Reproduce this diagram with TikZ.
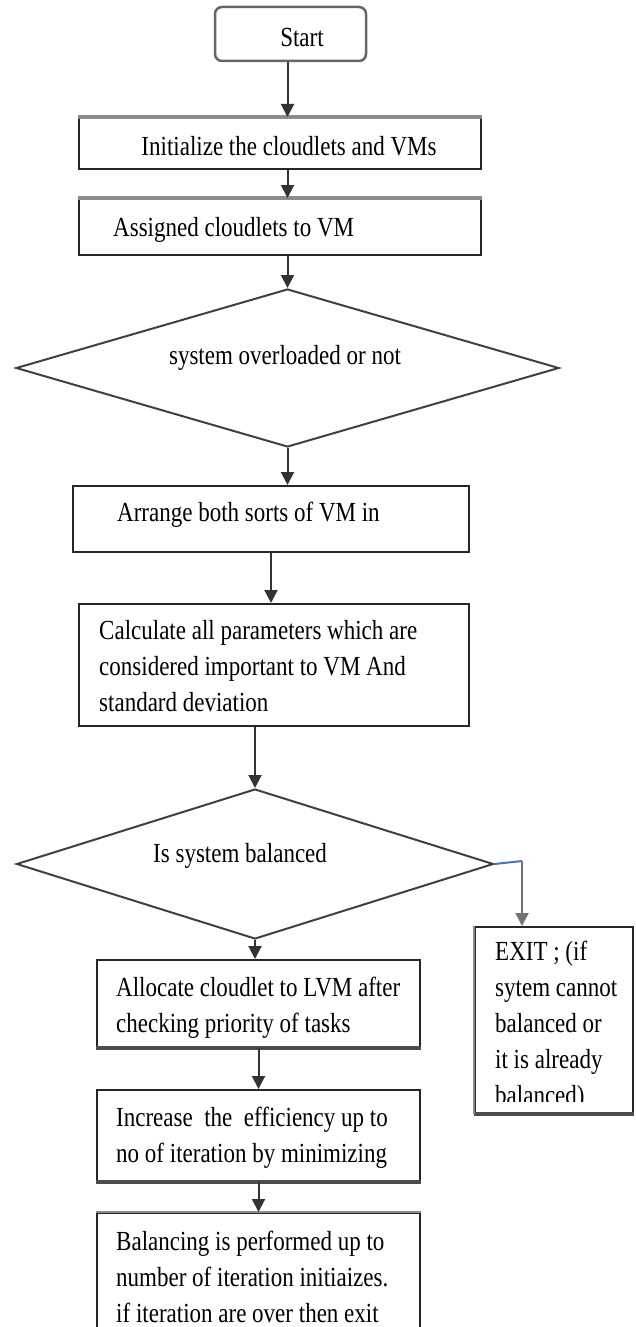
\documentclass[tikz,border=0pt]{standalone}
\usepackage{fontspec}
\setmainfont{Liberation Serif}
\usepackage{graphicx}
\usetikzlibrary{shapes.geometric,arrows.meta}
\definecolor{lineblue}{RGB}{68,114,196}
\newcommand{\flines}[1]{\scalebox{1}[1.2]{\fontsize{23}{30}\selectfont\begin{tabular}{@{}l@{}}#1\end{tabular}}}
\begin{document}
\begin{tikzpicture}[x=1pt,y=-1pt,
  box/.style={rectangle, draw=black!85, line width=2pt, fill=white, inner sep=0pt},
  dia/.style={diamond, draw=black!75, line width=2pt, fill=white, inner sep=0pt, aspect=3},
  arr/.style={draw=black!80, line width=2pt, -{Triangle[width=13pt,length=13pt]}},
  txt/.style={inner sep=0pt, anchor=north west},
  ctxt/.style={inner sep=0pt, anchor=north},
  topgray/.style={draw=black!45, line width=3.5pt},
  botdark/.style={draw=black!70, line width=3.5pt}]
\useasboundingbox (0,0) rectangle (636,1327);
\clip (0,0) rectangle (636,1327);

% shapes
\node[box, draw=black!60, line width=2.5pt, rounded corners=7pt, minimum width=151pt, minimum height=54pt] (start) at (290.5,34) {};
\node[box, minimum width=402pt, minimum height=51pt] (init) at (280,143.5) {};
\node[box, minimum width=402pt, minimum height=56pt] (assign) at (280,227) {};
\node[dia, minimum width=543pt, minimum height=158pt] (d1) at (287.5,368) {};
\node[box, minimum width=396pt, minimum height=66pt] (arrange) at (271,519) {};
\node[box, minimum width=390pt, minimum height=122pt] (calc) at (274,665) {};
\node[dia, minimum width=477pt, minimum height=150pt] (d2) at (255,864) {};
\node[box, minimum width=158pt, minimum height=186pt] (exit) at (554,1020) {};
\node[box, minimum width=323pt, minimum height=87pt] (alloc) at (258.5,1003.5) {};
\node[box, minimum width=323pt, minimum height=91pt] (incr) at (258.5,1135.5) {};
\node[box, minimum width=323pt, minimum height=200pt] (bal) at (258.5,1313) {};

% border accents
\draw[topgray] (init.north west) -- (init.north east);
\draw[topgray] (assign.north west) -- (assign.north east);
\draw[topgray, line width=2.5pt] (bal.north west) -- (bal.north east);
\draw[botdark] (alloc.south west) -- (alloc.south east);
\draw[botdark] (incr.south west) -- (incr.south east);
\draw[botdark] (exit.south west) -- (exit.south east);
\draw[draw=black!45, line width=2.5pt] (exit.north west) -- (exit.south west);

% texts
\node[ctxt] (tstart) at (302,20.8) {\flines{Start}};
\node[ctxt] (tinit) at (289,129.8) {\flines{Initialize the cloudlets and VMs}};
\node[txt] (tassign) at (113,210.8) {\flines{Assigned cloudlets to VM}};
\node[ctxt] (td1) at (285,338.8) {\flines{system overloaded or not}};
\node[txt] (tarrange) at (117,495.8) {\flines{Arrange both sorts of VM in}};
\node[txt] (tcalc) at (99,613.8) {\flines{Calculate all parameters which are\\considered important to VM And\\standard deviation}};
\node[txt] (td2) at (153,836.8) {\flines{Is system balanced}};
\begin{scope}
\clip (477,929) rectangle (631,1101);
\node[txt] (texit) at (495,934.8) {\flines{EXIT ; (if\\sytem cannot\\balanced or\\it is already\\balanced)}};
\end{scope}
\node[txt] (talloc) at (116,970.8) {\flines{Allocate cloudlet to LVM after\\checking priority of tasks}};
\node[txt] (tincr) at (116,1100.8) {\flines{Increase\ \ the\ \ efficiency up to\\no of iteration by minimizing}};
\node[txt] (tbal) at (116,1224.8) {\flines{Balancing is performed up to\\number of iteration initiaizes.\\if iteration are over then exit}};

% connectors
\draw[arr] (start.south -| d1.north) -- (init.north -| d1.north);
\draw[arr] (init.south -| d1.north) -- (assign.north -| d1.north);
\draw[arr] (assign.south -| d1.north) -- (d1.north);
\draw[arr] (d1.south) -- (d1.south |- arrange.north);
\draw[arr] (arrange.south) -- (arrange.south |- calc.north);
\draw[arr] (calc.south -| d2.north) -- (d2.north);
\draw[arr] (d2.south) -- (d2.south |- alloc.north);
\draw[arr] (alloc.south) -- (alloc.south |- incr.north);
\draw[arr] (incr.south) -- (incr.south |- bal.north);
\coordinate (bend) at (522,861);
\draw[draw=lineblue, line width=2pt] (d2.east) -- (bend);
\draw[arr, draw=black!55] (bend) -- (bend |- exit.north);
\end{tikzpicture}
\end{document}
